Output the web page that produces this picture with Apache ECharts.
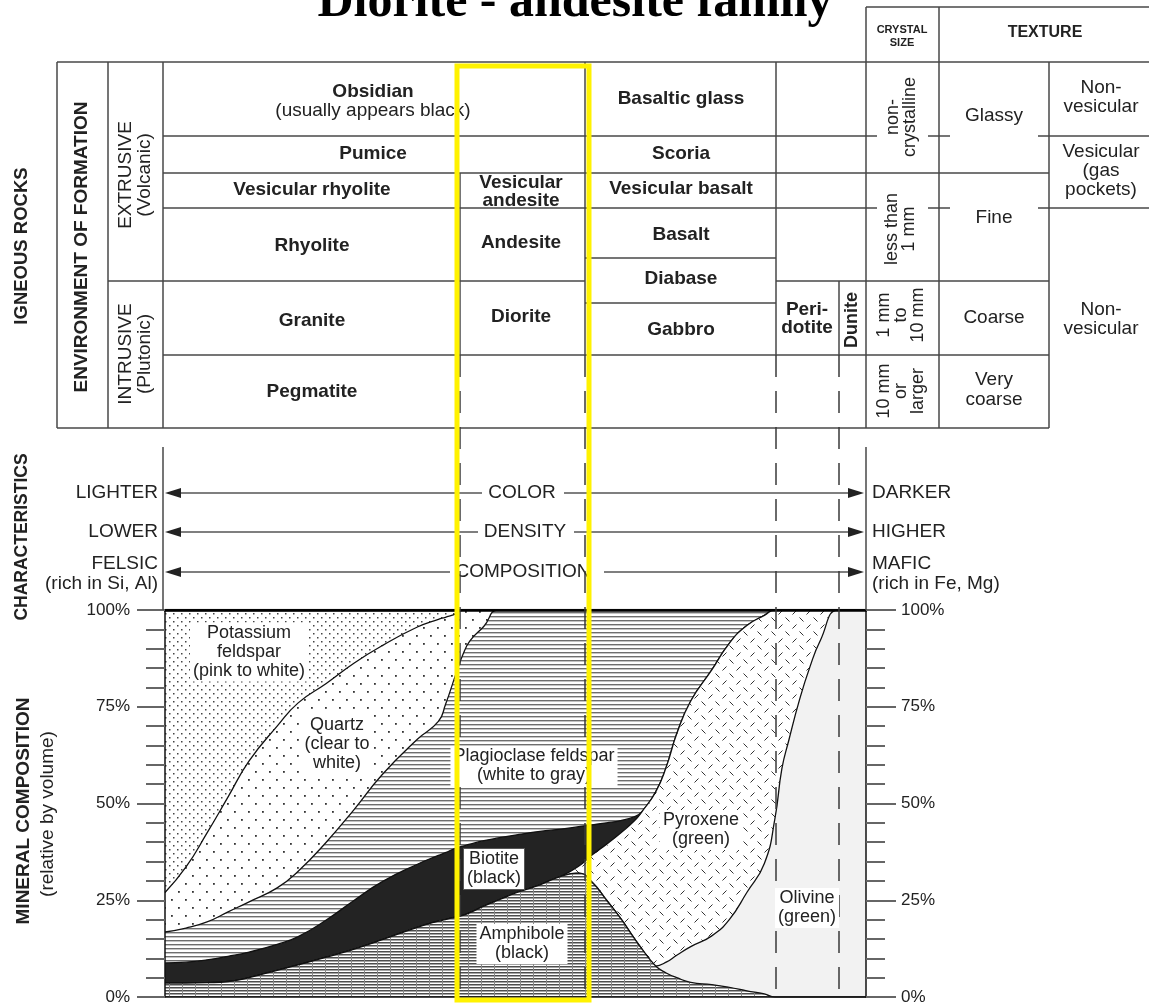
<!DOCTYPE html>
<html><head><meta charset="utf-8">
<script src="https://cdn.jsdelivr.net/npm/echarts@6/dist/echarts.min.js"></script>
<style>html,body{margin:0;padding:0;background:#fff}#c{width:1149px;height:1007px}</style>
</head><body><div id="c"></div>
<script>
// ---------- DATA ----------
// position across the mineral chart (0 = felsic edge, 100 = mafic edge)
const xPos = [0,3,6,9,12,16,19,23,27,31,36,39,40,41.5,42.5,43.5,45.5,47.5,50.5,53.5,56.5,59,61,63,65,67,68,70,71.5,73,75,78,80.5,83,85.5,87,88,89,90.5,92,93.5,96,98,100];
// cumulative upper boundary (% by volume) of each mineral band, bottom to top
const amphiboleTop   = [3.6,3.6,3.7,4.0,5.0,6.9,8.3,10.3,12.4,14.8,18,19.6,20,20.7,21.1,21.8,23.5,25,27.2,29,31.2,32,29.5,25,20.3,15,12.5,8,6.2,5,3.8,3.2,2.5,1.6,0.8,0,0,0,0,0,0,0,0,0];
const olivineTop     = [3.6,3.6,3.7,4.0,5.0,6.9,8.3,10.3,12.4,14.8,18,19.6,20,20.7,21.1,21.8,23.5,25,27.2,29,31.2,32,29.5,25,20.3,15,12.5,8,9,10.8,13,15.8,20,27,34.5,46,59,66.4,76.7,85.3,92.2,100,100,100];
const pyroxeneTop    = [3.6,3.6,3.7,4.0,5.0,6.9,8.3,10.3,12.4,14.8,18,19.6,20,20.7,21.1,21.8,23.5,25,27.2,29,31.2,33.8,36.8,39.5,42.4,45.6,47.8,53,59.4,68,76.5,84.5,91.4,96,98.6,100,100,100,100,100,100,100,100,100];
const biotiteTop     = [8.8,9,9.6,10.5,11.6,13.6,15.6,19.9,25,29.8,34.3,36.6,37.3,38.5,39,39.5,40.4,41.1,42,42.8,43.4,44,44.5,45,45.6,46.6,47.8,53,59.4,68,76.5,84.5,91.4,96,98.6,100,100,100,100,100,100,100,100,100];
const plagioclaseTop = [16.8,17.8,19.4,22,24.6,28.2,32.5,40,48.5,57.5,66.6,71.2,75.5,83.5,88.5,92,95.8,100,100,100,100,100,100,100,100,100,100,100,100,100,100,100,100,100,100,100,100,100,100,100,100,100,100,100];
const quartzTop      = [27,33.6,42.4,51.7,61,70,76,81,86.3,90.8,95.6,97.6,98.1,99,100,100,100,100,100,100,100,100,100,100,100,100,100,100,100,100,100,100,100,100,100,100,100,100,100,100,100,100,100,100];
const potassiumTop   = [100,100,100,100,100,100,100,100,100,100,100,100,100,100,100,100,100,100,100,100,100,100,100,100,100,100,100,100,100,100,100,100,100,100,100,100,100,100,100,100,100,100,100,100];

const mineralNames = ['Potassium feldspar','Quartz','Plagioclase feldspar','Biotite','Pyroxene','Olivine','Amphibole'];
const mineralLabels = ['Potassium\nfeldspar\n(pink to white)','Quartz\n(clear to\nwhite)','Plagioclase feldspar\n(white to gray)','Biotite\n(black)','Pyroxene\n(green)','Olivine\n(green)','Amphibole\n(black)'];
const percentTickStep = 25;

// ---------- patterns ----------
function pat(w,h,draw){const c=document.createElement('canvas');c.width=w;c.height=h;const g=c.getContext('2d');g.fillStyle='#fff';g.fillRect(0,0,w,h);draw(g);return {image:c,repeat:'repeat'};}
const P = {
  kfeld: pat(8,8,g=>{g.fillStyle='#444';g.fillRect(1,1,1.5,1.5);g.fillRect(5,5,1.5,1.5);}),
  quartz: pat(14,16,g=>{g.fillStyle='#333';g.fillRect(3,3,1.8,1.8);g.fillRect(10,11,1.8,1.8);}),
  plag: pat(4,4,g=>{g.fillStyle='#6e6e6e';g.fillRect(0,0,4,1);g.fillStyle='#c4c4c4';g.fillRect(0,1,4,1);}),
  amph: pat(13,3,g=>{g.fillStyle='#4d4d4d';g.fillRect(0,0,13,1);g.fillStyle='#a5a5a5';g.fillRect(0,1,13,1);g.fillStyle='#888';g.fillRect(0,0,1,3);}),
  pyro: pat(14,14,g=>{g.strokeStyle='#333';g.lineWidth=1;g.beginPath();g.moveTo(1.5,1.5);g.lineTo(5.5,5.5);g.moveTo(8.5,12.5);g.lineTo(12.5,8.5);g.stroke();}),
  olivine: '#f2f2f2',
  biotite: '#232323'
};
const tops = [potassiumTop,quartzTop,plagioclaseTop,biotiteTop,pyroxeneTop,olivineTop,amphiboleTop];
const fills = [P.kfeld,P.quartz,P.plag,P.biotite,P.pyro,P.olivine,P.amph];

const series = tops.map((arr,i)=>({
  type:'line', name:mineralNames[i], data:xPos.map((x,j)=>[x,arr[j]]),
  smooth:0.5, symbol:'none', silent:true, animation:false, z:2+i,
  lineStyle:{color:'#111',width:i===0?2.5:1.3}, itemStyle:{color:'#111'},
  areaStyle:{color:fills[i],opacity:1}, emphasis:{disabled:true}
}));

// ---------- graphic helpers ----------
const FONT='"Liberation Sans", Arial, Helvetica, sans-serif';
const G=[];
function L(x1,y1,x2,y2,o){o=o||{};G.push({type:'line',silent:true,z:o.z||50,shape:{x1,y1,x2,y2},style:{stroke:o.c||'#474747',lineWidth:o.w||1.5,lineDash:o.dash||null}});}
function T(x,y,t,o){o=o||{};G.push({type:'text',silent:true,z:o.z||60,x,y,rotation:o.rot||0,style:{text:t,fontSize:o.size||19,fontWeight:o.bold?'bold':'normal',fontFamily:o.fam||FONT,fill:o.color||'#222',align:o.align||'center',textAlign:o.align||'center',verticalAlign:'middle',textVerticalAlign:'middle',lineHeight:o.lh||19,backgroundColor:o.bg||null,padding:o.pad||0,borderColor:o.bc||null,borderWidth:o.bw||0}});}
function TRI(pts){G.push({type:'polygon',silent:true,z:55,shape:{points:pts},style:{fill:'#222'}});}
const R=Math.PI/2;

// title
T(575,3,'Diorite - andesite family',{fam:'"Liberation Serif","Times New Roman",serif',size:50,bold:true,color:'#000',lh:50});
// header
L(866,7,1149,7); L(866,7,866,428); L(939,7,939,428);
T(902,36,'CRYSTAL\nSIZE',{size:11,bold:true,lh:13});
T(1045,33,'TEXTURE',{size:16,bold:true});
// table horizontals
L(57,62,1149,62);
L(163,136,877,136); L(928,136,950,136); L(1038,136,1149,136);
L(163,173,1049,173);
L(163,208,877,208); L(928,208,950,208); L(1038,208,1149,208);
L(108,281,585,281); L(776,281,1049,281);
L(585,258,776,258); L(585,303,776,303);
L(163,355,1049,355);
L(57,428,1049,428);
// table verticals
L(57,62,57,428); L(108,62,108,428); L(163,62,163,428);
L(460,173,460,355); L(585,62,585,355); L(776,62,776,355); L(839,281,839,355);
L(1049,62,1049,428);
const dash=[22,14];
[460,585,776,839].forEach(x=>L(x,355,x,997,{dash,z:70,c:'#3a3a3a'}));
L(163,447,163,610); L(866,447,866,610);

// side labels
T(22,246,'IGNEOUS ROCKS',{rot:R,bold:true,size:18.5});
T(82,247,'ENVIRONMENT OF FORMATION',{rot:R,bold:true,size:19});
T(135,175,'EXTRUSIVE\n(Volcanic)',{rot:R,size:19,lh:19});
T(135,354,'INTRUSIVE\n(Plutonic)',{rot:R,size:19,lh:19});
T(22,537,'CHARACTERISTICS',{rot:R,bold:true,size:17.5});
T(24,811,'MINERAL COMPOSITION',{rot:R,bold:true,size:19});
T(48,814,'(relative by volume)',{rot:R,size:19});

// rock names
T(373,92,'Obsidian',{bold:true}); T(373,111,'(usually appears black)');
T(373,154,'Pumice',{bold:true});
T(312,190,'Vesicular rhyolite',{bold:true});
T(521,192,'Vesicular\nandesite',{bold:true,lh:18});
T(312,246,'Rhyolite',{bold:true}); T(521,243,'Andesite',{bold:true});
T(312,321,'Granite',{bold:true}); T(521,317,'Diorite',{bold:true});
T(312,392,'Pegmatite',{bold:true});
T(681,99,'Basaltic glass',{bold:true}); T(681,154,'Scoria',{bold:true});
T(681,189,'Vesicular basalt',{bold:true}); T(681,235,'Basalt',{bold:true});
T(681,279,'Diabase',{bold:true}); T(681,330,'Gabbro',{bold:true});
T(807,319,'Peri-\ndotite',{bold:true,lh:18});
T(852,320,'Dunite',{bold:true,rot:R,size:18});
// crystal size
T(902,117,'non-\ncrystalline',{rot:R,size:18,lh:17});
T(901,229,'less than\n1 mm',{rot:R,size:18,lh:17});
T(901,315,'1 mm\nto\n10 mm',{rot:R,size:18,lh:17});
T(901,391,'10 mm\nor\nlarger',{rot:R,size:18,lh:17});
// texture
T(994,116,'Glassy'); T(994,218,'Fine'); T(994,318,'Coarse'); T(994,390,'Very\ncoarse',{lh:20});
T(1101,97,'Non-\nvesicular'); T(1101,171,'Vesicular\n(gas\npockets)'); T(1101,319,'Non-\nvesicular');

// characteristics
T(158,493,'LIGHTER',{align:'right'}); T(158,532,'LOWER',{align:'right'});
T(158,564,'FELSIC',{align:'right'}); T(158,584,'(rich in Si, Al)',{align:'right'});
T(872,493,'DARKER',{align:'left'}); T(872,532,'HIGHER',{align:'left'});
T(872,564,'MAFIC',{align:'left'}); T(872,584,'(rich in Fe, Mg)',{align:'left'});
T(522,493,'COLOR'); T(525,532,'DENSITY'); T(523,572,'COMPOSITION');
[[493,482,564],[532,478,574],[572,450,604]].forEach(([y,a,b])=>{
  L(180,y,a,y,{c:'#555'}); L(b,y,849,y,{c:'#555'});
  TRI([[165,y],[181,y-5],[181,y+5]]); TRI([[864,y],[848,y-5],[848,y+5]]);
});

// mineral labels
const labelPos=[[249,652],[337,744],[534,766],[494,869],[701,830],[807,908],[522,944]];
mineralLabels.forEach((t,i)=>T(labelPos[i][0],labelPos[i][1],t,{size:18,lh:19,bg:'#fff',pad:[1,3],z:80,bc:i===3?'#555':null,bw:i===3?1:0}));

// highlight frame
G.push({type:'rect',silent:true,z:200,shape:{x:457,y:66,width:132,height:934},style:{fill:null,stroke:'#fff200',lineWidth:5}});

const axisLbl={fontSize:17,color:'#222',fontFamily:FONT,formatter:'{value}%',margin:35};
const option={
  animation:false,
  grid:{left:165,top:610,width:701,height:387,containLabel:false,outerBoundsMode:'none'},
  xAxis:[
    {type:'value',min:0,max:100,position:'bottom',z:10,axisLine:{show:true,onZero:false,lineStyle:{color:'#111',width:1.5}},axisTick:{show:false},axisLabel:{show:false},splitLine:{show:false}},
    {type:'value',min:0,max:100,position:'top',z:10,axisLine:{show:true,onZero:false,lineStyle:{color:'#000',width:2.5}},axisTick:{show:false},axisLabel:{show:false},splitLine:{show:false}}
  ],
  yAxis:[
    {type:'value',min:0,max:100,interval:percentTickStep,position:'left',z:10,axisLine:{show:true,onZero:false,lineStyle:{color:'#111',width:1.5}},axisTick:{show:true,inside:false,length:28,lineStyle:{color:'#666',width:2}},minorTick:{show:true,splitNumber:5,length:19,lineStyle:{color:'#666',width:2}},axisLabel:axisLbl,splitLine:{show:false}},
    {type:'value',min:0,max:100,interval:percentTickStep,position:'right',z:10,axisLine:{show:true,onZero:false,lineStyle:{color:'#111',width:1.5}},axisTick:{show:true,inside:false,length:30,lineStyle:{color:'#666',width:2}},minorTick:{show:true,splitNumber:5,length:19,lineStyle:{color:'#666',width:2}},axisLabel:axisLbl,splitLine:{show:false}}
  ],
  series:series,
  graphic:{elements:G}
};
const chart=echarts.init(document.getElementById('c'),null,{renderer:'canvas'});
chart.setOption(option);
</script></body></html>
